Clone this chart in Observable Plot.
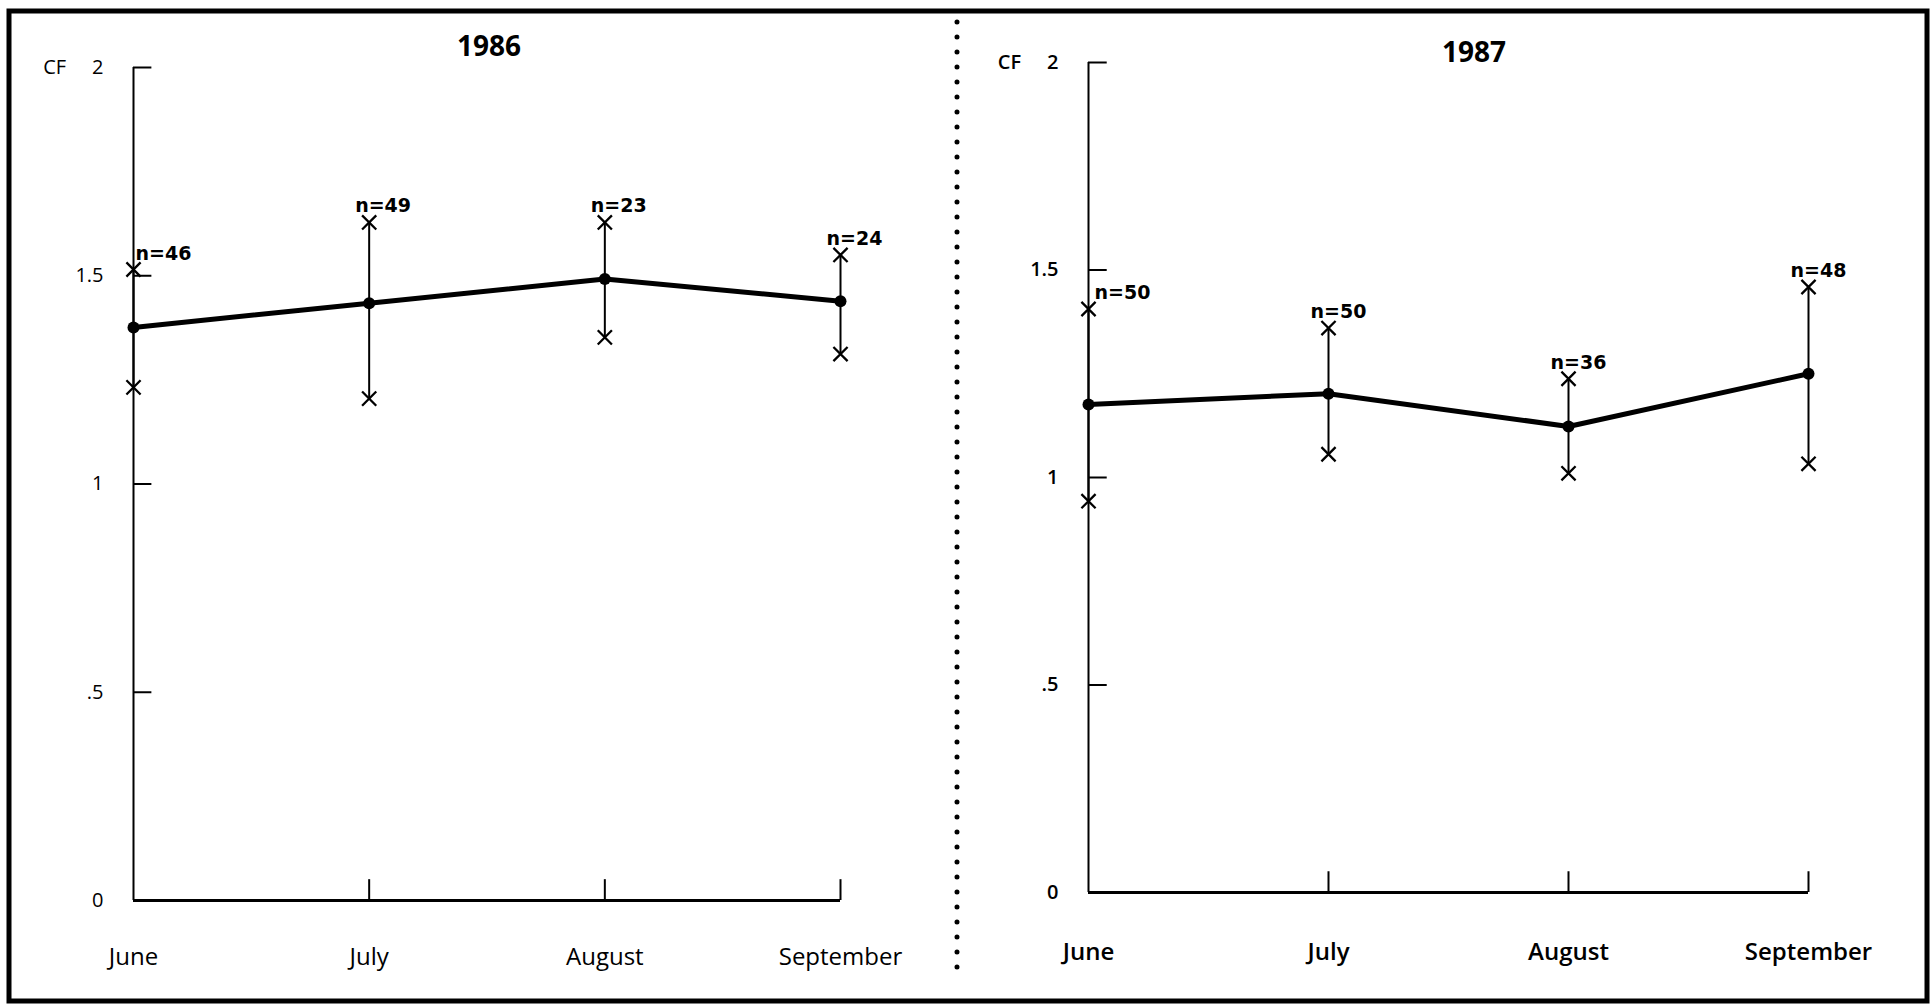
<!DOCTYPE html>
<html><head><meta charset="utf-8">
<script src="https://cdn.jsdelivr.net/npm/d3@7"></script>
<script src="https://cdn.jsdelivr.net/npm/@observablehq/plot@0.6"></script>
<style>
html,body{margin:0;padding:0;background:#fff;}
#wrap{position:relative;width:1932px;height:1004px;overflow:hidden;background:#fff;}
.panel{position:absolute;top:0;}
.title{position:absolute;font-family:"Open Sans",sans-serif;font-weight:700;font-size:28px;transform:translate(-50%,-50%);line-height:1;color:#000;}
#frame{position:absolute;left:0;top:0;pointer-events:none;}
</style></head><body>
<div id="wrap">
  <div id="left" class="panel" style="left:0"></div>
  <div id="right" class="panel" style="left:955px"></div>
  <div class="title" style="left:489px;top:45px">1986</div>
  <div class="title" style="left:1474px;top:51px">1987</div>
  <svg id="frame" width="1932" height="1004">
    <rect x="9" y="11" width="1918" height="990" fill="none" stroke="#000" stroke-width="5"/>
    <line x1="957" y1="22" x2="957" y2="982" stroke="#000" stroke-width="5" stroke-linecap="round" stroke-dasharray="0 15"/>
  </svg>
</div>
<script>
const months = ["June", "July", "August", "September"];
const yTicks = [0, 0.5, 1, 1.5, 2];

const mean1986  = [1.376, 1.434, 1.492, 1.439];
const upper1986 = [1.515, 1.628, 1.628, 1.550];
const lower1986 = [1.232, 1.205, 1.352, 1.312];
const n1986     = [46, 49, 23, 24];

const mean1987  = [1.176, 1.202, 1.123, 1.250];
const upper1987 = [1.406, 1.360, 1.238, 1.459];
const lower1987 = [0.943, 1.056, 1.010, 1.033];
const n1987     = [50, 50, 36, 48];

function fmtY(d) {
  const s = String(d).replace(/^0\./, ".");
  return d === 2 ? "CF\u00a0\u00a0\u00a0\u00a0\u00a0" + s : s;
}

function panel(mean, upper, lower, n, o) {
  const data = months.map((m, i) => ({i, month: m, mean: mean[i], upper: upper[i], lower: lower[i], n: n[i]}));
  const last = months.length - 1;
  const nStyle = {textAnchor: "start", lineAnchor: "bottom", dy: -10, fontSize: 19, fontWeight: 900,
                  fontFamily: "'DejaVu Sans', sans-serif", letterSpacing: 2};
  return Plot.plot({
    width: o.width,
    height: 1004,
    marginLeft: 133,
    marginRight: o.marginRight,
    marginTop: o.marginTop,
    marginBottom: o.marginBottom,
    style: {background: "transparent", fontFamily: "'Open Sans', sans-serif", color: "#000"},
    x: {domain: [0, last], label: null},
    y: {domain: d3.extent(yTicks), label: null},
    marks: [
      Plot.ruleX([0], {y1: yTicks[0], y2: yTicks[yTicks.length - 1], strokeWidth: 2}),
      Plot.ruleY([0], {x1: 0, x2: last, strokeWidth: 3}),
      Plot.ruleY(yTicks.filter(d => d > 0), {x1: 0, x2: 0.078, strokeWidth: 2}),
      Plot.ruleX(d3.range(1, months.length), {y1: 0, y2: 0.05, strokeWidth: 2}),
      Plot.axisY(yTicks, {tickSize: 0, tickPadding: 30, fontSize: 20, fontWeight: o.weight, tickFormat: fmtY}),
      Plot.axisX(d3.range(months.length), {tickSize: 0, tickPadding: o.xPad, fontSize: 24, fontWeight: o.weight, tickFormat: i => months[i]}),
      Plot.ruleX(data, {x: "i", y1: "lower", y2: "upper", strokeWidth: 2}),
      Plot.dot(data, {x: "i", y: "upper", symbol: "times", r: 6.5, stroke: "#000", strokeWidth: 2.3}),
      Plot.dot(data, {x: "i", y: "lower", symbol: "times", r: 6.5, stroke: "#000", strokeWidth: 2.3}),
      Plot.line(data, {x: "i", y: "mean", stroke: "#000", strokeWidth: 5}),
      Plot.dot(data, {x: "i", y: "mean", r: 6, fill: "#000"}),
      Plot.text(data.filter(d => d.i === 0), {x: "i", y: "upper", text: d => "n=" + d.n, dx: o.firstDx, ...nStyle}),
      Plot.text(data.filter(d => d.i > 0), {x: "i", y: "upper", text: d => "n=" + d.n, dx: o.restDx, ...nStyle})
    ]
  });
}

document.getElementById("left").append(panel(mean1986, upper1986, lower1986, n1986,
  {width: 955, marginRight: 115, marginTop: 67, marginBottom: 104, xPad: 47, firstDx: 2, restDx: -14, weight: 500}));
document.getElementById("right").append(panel(mean1987, upper1987, lower1987, n1987,
  {width: 977, marginRight: 124, marginTop: 62, marginBottom: 112, xPad: 50, firstDx: 6, restDx: -18, weight: 600}));
</script>
</body></html>
